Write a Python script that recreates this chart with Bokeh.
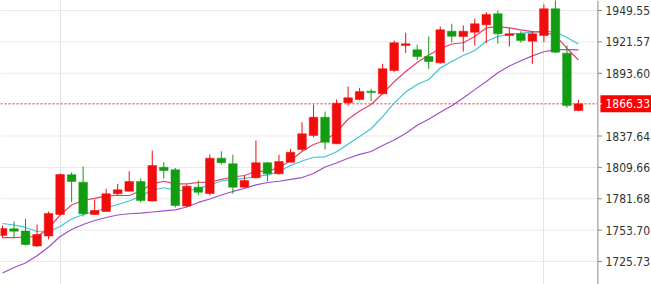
from bokeh.plotting import figure
from bokeh.models import Range1d, FixedTicker, ColumnDataSource
from bokeh.core.properties import value
from bokeh.embed import file_html
from bokeh.resources import INLINE

# ---- data ----
opens = [1748.9, 1754.9, 1752.9, 1739.6, 1748.5, 1767.7, 1803.1, 1796.5, 1767.7, 1770.3,
         1786.1, 1788.4, 1797.1, 1779.7, 1809.8, 1807.5, 1775.2, 1792.0, 1786.4, 1817.9,
         1812.9, 1792.0, 1800.4, 1813.8, 1803.9, 1814.3, 1825.6, 1838.1, 1854.4, 1830.7,
         1867.3, 1870.2, 1877.6, 1875.3, 1896.1, 1918.3, 1914.5, 1908.5, 1902.9, 1931.1,
         1926.4, 1930.2, 1936.8, 1946.6, 1927.3, 1928.8, 1922.2, 1927.3, 1951.1, 1911.5,
         1860.4]
highs = [1757.8, 1761.4, 1763.8, 1758.7, 1770.3, 1804.2, 1805.1, 1810.5, 1781.0, 1790.6,
         1795.0, 1806.3, 1799.8, 1824.7, 1814.3, 1809.1, 1794.4, 1798.0, 1821.2, 1824.1,
         1820.9, 1802.4, 1833.6, 1814.3, 1820.9, 1826.2, 1850.0, 1865.5, 1859.5, 1870.2,
         1881.8, 1880.6, 1879.7, 1902.0, 1922.8, 1929.7, 1919.0, 1926.4, 1935.3, 1937.7,
         1936.2, 1942.2, 1948.0, 1949.6, 1934.0, 1931.1, 1931.1, 1954.9, 1962.0, 1918.3,
         1869.9]
lows = [1747.1, 1747.4, 1740.0, 1738.7, 1745.4, 1767.2, 1778.6, 1765.9, 1767.2, 1769.9,
        1784.6, 1788.2, 1778.4, 1779.2, 1799.8, 1773.9, 1774.3, 1785.0, 1784.6, 1812.2,
        1786.1, 1791.5, 1799.8, 1797.3, 1803.3, 1814.0, 1824.1, 1836.6, 1825.6, 1830.5,
        1864.8, 1869.3, 1868.7, 1874.7, 1894.5, 1911.7, 1905.4, 1897.6, 1902.0, 1921.3,
        1913.0, 1918.3, 1920.4, 1919.9, 1917.5, 1920.8, 1902.0, 1921.3, 1911.7, 1862.8,
        1859.8]
closes = [1755.2, 1752.8, 1740.9, 1749.8, 1768.5, 1803.3, 1797.1, 1768.3, 1771.2, 1786.1,
          1789.7, 1797.1, 1780.1, 1811.3, 1806.9, 1775.7, 1792.9, 1787.5, 1817.9, 1813.8,
          1792.0, 1798.0, 1813.8, 1803.9, 1814.9, 1823.2, 1839.6, 1854.4, 1832.1, 1866.9,
          1871.7, 1877.3, 1876.4, 1897.6, 1920.8, 1919.9, 1908.5, 1904.1, 1932.3, 1926.6,
          1931.1, 1937.7, 1946.0, 1928.8, 1928.8, 1922.8, 1928.8, 1951.1, 1912.4, 1864.8,
          1866.33]
ma_fast = [1747.1, 1747.1, 1747.6, 1748.0, 1755.2, 1767.2, 1776.1, 1780.1, 1782.1, 1784.3,
           1784.6, 1784.6, 1788.6, 1795.0, 1797.3, 1795.0, 1795.0, 1796.2, 1796.6, 1798.9,
           1801.1, 1802.4, 1806.0, 1806.3, 1809.4, 1815.8, 1823.8, 1830.1, 1833.6, 1841.2,
           1852.6, 1859.9, 1865.7, 1875.5, 1886.0, 1895.2, 1903.2, 1909.9, 1915.4, 1919.7,
           1920.8, 1926.4, 1934.0, 1935.1, 1934.0, 1932.2, 1930.8, 1930.2, 1927.3, 1915.7,
           1905.4]
ma_mid = [1759.6, 1758.3, 1756.1, 1752.5, 1752.2, 1757.0, 1763.6, 1767.7, 1770.3, 1773.4,
          1776.6, 1779.7, 1784.1, 1789.5, 1791.5, 1789.5, 1788.6, 1790.8, 1794.0, 1797.5,
          1798.9, 1799.8, 1801.3, 1802.9, 1806.0, 1811.3, 1815.4, 1818.7, 1819.1, 1823.6,
          1830.4, 1837.2, 1844.1, 1854.9, 1867.0, 1876.8, 1883.6, 1888.0, 1898.3, 1904.1,
          1909.4, 1913.9, 1922.1, 1926.4, 1928.3, 1929.2, 1930.2, 1931.1, 1930.4, 1925.5,
          1919.7]
ma_slow = [1715.5, 1720.4, 1724.4, 1730.8, 1738.7, 1748.0, 1754.3, 1758.7, 1762.3, 1765.0,
           1767.2, 1768.3, 1768.8, 1769.9, 1770.8, 1771.7, 1774.3, 1778.4, 1781.5, 1785.0,
           1788.2, 1790.8, 1794.0, 1796.2, 1797.3, 1798.9, 1800.6, 1804.2, 1810.0, 1813.6,
           1817.8, 1821.2, 1823.8, 1829.2, 1834.1, 1839.9, 1847.2, 1852.6, 1858.9, 1864.7,
           1871.6, 1879.0, 1886.3, 1894.0, 1900.0, 1904.8, 1909.1, 1912.8, 1914.6, 1914.7,
           1914.5]
price_ticks = [1725.73, 1753.70, 1781.68, 1809.66, 1837.64, 1893.60, 1921.57, 1949.55]
tick_labels = ["1725.73", "1753.70", "1781.68", "1809.66", "1837.64", "1893.60", "1921.57", "1949.55"]
last_price = 1866.33
last_label = "1866.33"
vgrid_bars = [5, 47]

# ---- styling / geometry ----
UP = "#f20d0d"
DOWN = "#119c11"
FONT = "DejaVu Sans Condensed"
X0, X1 = -0.174, 56.34          # full canvas width in bar units
AXIS_X = 51.69                  # price-scale border
TICK_X1 = 52.04
LABEL_X = 52.34
BOX_X = 54.12

idx = list(range(len(opens)))
colors = [UP if c >= o else DOWN for o, c in zip(opens, closes)]
src = ColumnDataSource(dict(
    x=idx, high=highs, low=lows,
    top=[max(o, c) for o, c in zip(opens, closes)],
    bottom=[min(o, c) for o, c in zip(opens, closes)],
    color=colors))

p = figure(width=651, height=284, output_backend="svg", toolbar_location=None,
           x_axis_location=None, y_axis_location=None,
           x_range=Range1d(X0, X1), y_range=Range1d(1705.23, 1958.47), min_border=0,
           background_fill_color="white", border_fill_color="white")
p.outline_line_color = None
p.xgrid.ticker = FixedTicker(ticks=vgrid_bars)
p.xgrid.grid_line_color = "#dfe5ee"
p.ygrid.visible = False

n = len(price_ticks)
# horizontal grid lines (stop at the price scale)
p.segment(x0=[X0] * n, x1=[AXIS_X] * n, y0=price_ticks, y1=price_ticks,
          line_color="#e9e9e9", line_width=1)
# price-scale border line
p.segment(x0=[AXIS_X], x1=[AXIS_X], y0=[1705.23], y1=[1958.47],
          line_color="#8a8a8a", line_width=1)

# last-price dotted line
p.segment(x0=[X0], x1=[AXIS_X], y0=[last_price], y1=[last_price],
          line_color="#ff2020", line_dash="2 2", line_width=1)

# moving averages
p.line(idx, ma_slow, line_color="#a24ec6", line_width=1.2)
p.line(idx, ma_mid, line_color="#3fc4d6", line_width=1.2)
p.line(idx, ma_fast, line_color="#e8406a", line_width=1.2)

# candles
p.segment(x0="x", y0="low", x1="x", y1="high", line_color="color", line_width=1, source=src)
p.vbar(x="x", width=0.75, top="top", bottom="bottom", fill_color="color",
       line_color="color", line_width=0.5, source=src)

# price-scale ticks and labels
p.segment(x0=[AXIS_X] * n, x1=[TICK_X1] * n, y0=price_ticks, y1=price_ticks,
          line_color="#8a8a8a", line_width=1)
p.text(x=[LABEL_X] * n, y=price_ticks, text=tick_labels, text_font=value(FONT),
       text_font_size="12px", text_color="#333333", text_baseline="middle",
       text_align="left")

# last-price marker box
p.rect(x=[BOX_X], y=[last_price], width=51, height=17, width_units="screen",
       height_units="screen", fill_color="#ff0000", line_color=None)
p.segment(x0=[AXIS_X], x1=[TICK_X1], y0=[last_price], y1=[last_price],
          line_color="#ffffff", line_width=1)
p.text(x=[LABEL_X], y=[last_price], text=[last_label], text_font=value(FONT),
       text_font_size="12px", text_color="white", text_baseline="middle",
       text_align="left")

open("out.html", "w").write(file_html(p, INLINE))
